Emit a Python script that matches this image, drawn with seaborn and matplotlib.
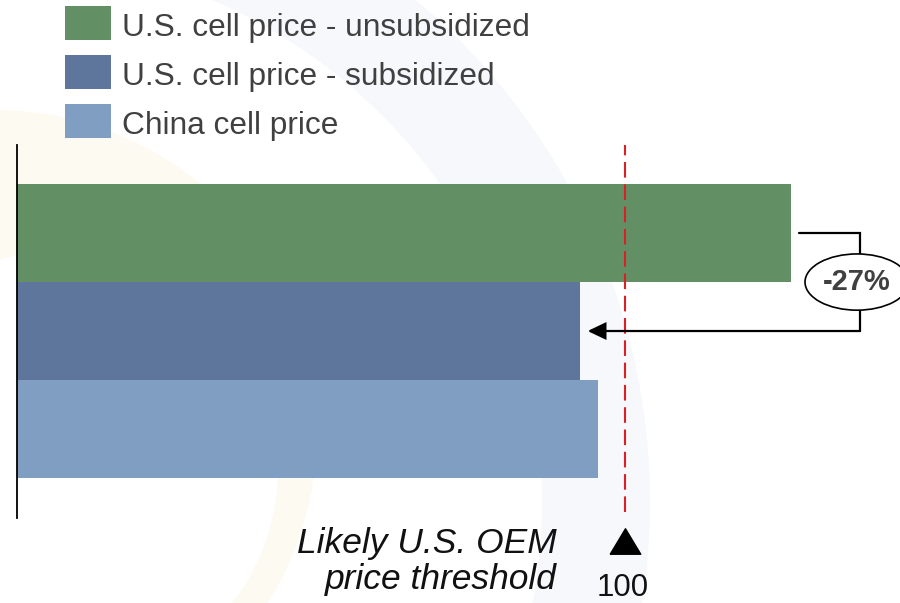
import matplotlib
matplotlib.use("Agg")
import matplotlib.pyplot as plt
import seaborn as sns
import pandas as pd
from matplotlib.patches import Ellipse, Rectangle, Circle, Wedge

# Relative cell prices (U.S. OEM threshold = 100)
categories = ["U.S. cell price - unsubsidized", "U.S. cell price - subsidized", "China cell price"]
prices = [127.4, 92.6, 95.7]
bar_colors = ["#638F65", "#5E769C", "#809EC2"]
threshold = 100
threshold_label = "Likely U.S. OEM\nprice threshold"
threshold_tick = "100"
change_label = "-27%"

sns.set_theme(style="white")
plt.rcParams["font.family"] = ["Liberation Sans", "DejaVu Sans"]

W, H = 900, 603
fig = plt.figure(figsize=(W / 100, H / 100), dpi=100)
fig.patch.set_facecolor("white")

# faint background swooshes, in pixel coordinates
bg = fig.add_axes([0, 0, 1, 1], zorder=-5)
bg.set_xlim(0, W)
bg.set_ylim(H, 0)
bg.axis("off")
bg.add_patch(Wedge((-5, 502), 655, 0, 360, width=108, facecolor="#F7F8FB",
                   edgecolor="none"))
bg.add_patch(Circle((-5, 432), 322, facecolor="#FDFAF2", edgecolor="none"))
bg.add_patch(Circle((60, 469), 218, facecolor="white", edgecolor="none"))

# axes box in pixels: left 17, right 898, top 145, bottom 518
ax = fig.add_axes([17 / W, 1 - 518 / H, (898 - 17) / W, (518 - 145) / H])
ax.set_facecolor("none")

df = pd.DataFrame({"category": categories, "price": prices})
sns.barplot(data=df, x="price", y="category", hue="category", palette=bar_colors,
            orient="h", width=1.0, saturation=1, legend=False, linewidth=0,
            edgecolor="none", ax=ax)

px_per_unit = (898 - 17) / 145.0
ax.set_xlim(0, 145)
ax.set_ylim(2.91, -0.9)
ax.set_xticks([])
ax.set_yticks([])
ax.set_xlabel("")
ax.set_ylabel("")
for side in ("top", "right", "bottom"):
    ax.spines[side].set_visible(False)
ax.spines["left"].set_color("black")
ax.spines["left"].set_linewidth(1.3)

# threshold line
ax.axvline(threshold, ymin=6 / 373, ymax=1, color="#D92027", lw=1.5,
           dashes=(7.5, 3.2), zorder=3)

# threshold marker and labels below the axis
tri = [(-0.6, -0.5), (0.6, -0.5), (0.0, 0.5), (-0.6, -0.5)]
ax.plot([threshold], [-23 / 373], marker=tri, markersize=22, color="black",
        linestyle="none", transform=ax.get_xaxis_transform(), clip_on=False)
ax.annotate(threshold_tick, xy=(threshold, 0), xycoords=("data", "axes fraction"),
            xytext=(-2, -78), textcoords="offset pixels", ha="center", va="baseline",
            fontsize=22.5, color="#111111")
ax.annotate(threshold_label, xy=(threshold, 0), xycoords=("data", "axes fraction"),
            xytext=(-68, -71), textcoords="offset pixels", ha="right", va="baseline",
            fontsize=25.5, style="italic", color="#111111", linespacing=1.12)

# bracket from unsubsidized bar to subsidized bar with percentage callout
gap = 8 / px_per_unit
bracket_x = (860 - 17) / px_per_unit
ax.plot([prices[0] + gap, bracket_x, bracket_x], [0, 0, 1], color="black", lw=1.6,
        solid_joinstyle="miter", clip_on=False, zorder=4)
ax.annotate("", xy=(prices[1] + gap, 1), xytext=(bracket_x, 1),
            arrowprops=dict(arrowstyle="-|>,head_length=0.42,head_width=0.2",
                            mutation_scale=26, lw=1.6, color="black",
                            shrinkA=0, shrinkB=0, joinstyle="miter"),
            annotation_clip=False, zorder=4)
ell_cx = (857 - 17) / px_per_unit
ell = Ellipse((ell_cx, 0.5), width=104 / px_per_unit, height=56 / 97.5,
              facecolor="white", edgecolor="black", lw=1.2, clip_on=False, zorder=5)
ax.add_patch(ell)
ax.text(ell_cx, 0.5, change_label, ha="center", va="center", fontsize=21,
        fontweight="bold", color="#404040", zorder=6, clip_on=False)

# legend
for i, (name, col) in enumerate(zip(categories, bar_colors)):
    top = 6 + 49 * i
    fig.add_artist(Rectangle((65 / W, 1 - (top + 34) / H), 46 / W, 34 / H,
                             transform=fig.transFigure, facecolor=col,
                             edgecolor="none"))
    fig.text(122 / W, 1 - (top + 30) / H, name, ha="left", va="baseline",
             fontsize=22.8, color="#404040")

fig.savefig("out.png", dpi=100, facecolor="white")
